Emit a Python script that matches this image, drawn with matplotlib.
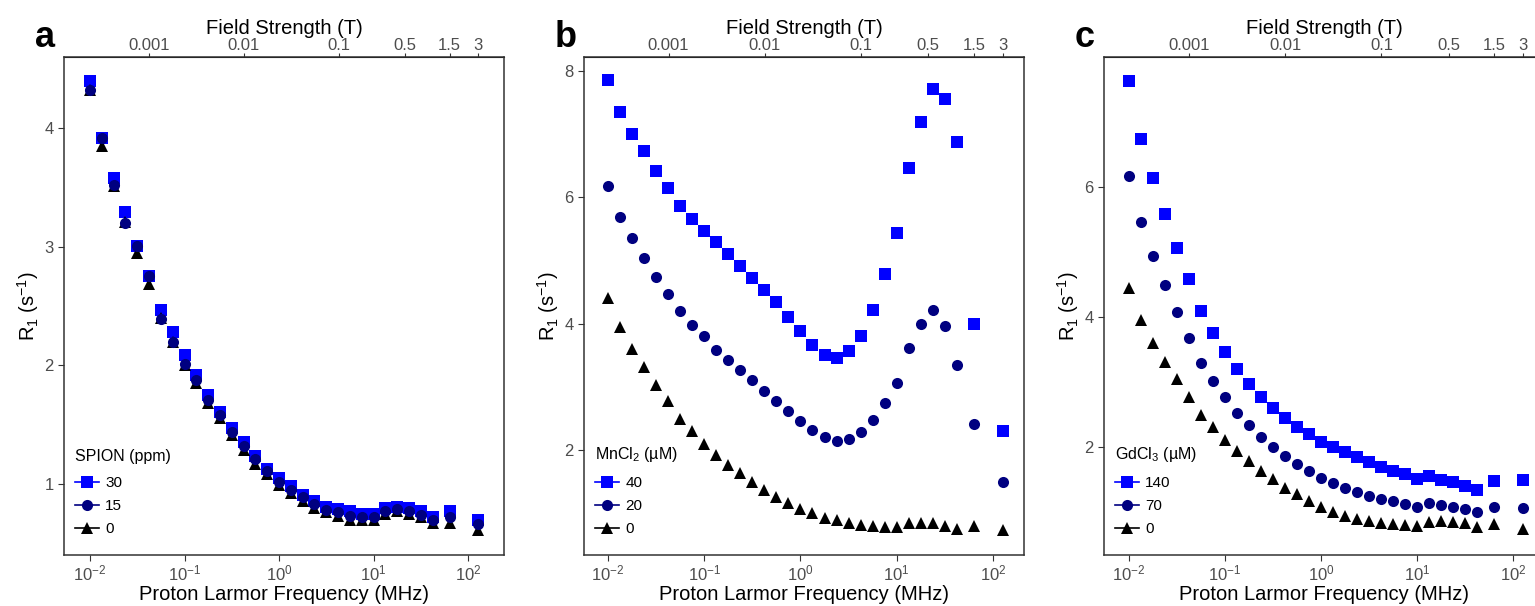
import matplotlib.pyplot as plt
from matplotlib.lines import Line2D
from matplotlib.ticker import FixedLocator, NullLocator, LogLocator

plt.rcParams['font.family'] = ['Liberation Sans', 'DejaVu Sans']
plt.rcParams['mathtext.fontset'] = 'custom'
plt.rcParams['mathtext.rm'] = 'Liberation Sans'
plt.rcParams['mathtext.it'] = 'Liberation Sans:italic'

# Frequências do relaxómetro (MHz)
freq = [0.01, 0.0133, 0.0178, 0.0237, 0.0316, 0.0422, 0.0562, 0.075,
        0.1, 0.133, 0.178, 0.237, 0.316, 0.422, 0.562, 0.75,
        1.0, 1.33, 1.78, 2.37, 3.16, 4.22, 5.62, 7.5,
        10.0, 13.3, 17.8, 23.7, 31.6, 42.2, 63.9, 127.7]

# Painel a - SPION (ppm)
spion_30 = [4.40, 3.92, 3.58, 3.29, 3.01, 2.75, 2.47, 2.28, 2.09, 1.92, 1.75, 1.61, 1.47, 1.35, 1.24, 1.13,
            1.05, 0.98, 0.91, 0.86, 0.81, 0.79, 0.77, 0.75, 0.75, 0.80, 0.81, 0.80, 0.77, 0.72, 0.77, 0.70]
spion_15 = [4.32, 3.92, 3.52, 3.20, 3.01, 2.75, 2.39, 2.20, 2.01, 1.88, 1.71, 1.58, 1.44, 1.32, 1.21, 1.11,
            1.02, 0.95, 0.89, 0.83, 0.78, 0.76, 0.73, 0.72, 0.72, 0.77, 0.79, 0.77, 0.74, 0.70, 0.72, 0.66]
spion_0 = [4.32, 3.85, 3.51, 3.21, 2.95, 2.69, 2.40, 2.20, 2.00, 1.85, 1.68, 1.56, 1.41, 1.29, 1.17, 1.08,
           0.99, 0.92, 0.86, 0.80, 0.76, 0.73, 0.70, 0.70, 0.70, 0.75, 0.77, 0.75, 0.72, 0.67, 0.67, 0.61]

# Painel b - MnCl2 (uM)
mn_40 = [7.86, 7.35, 7.00, 6.73, 6.42, 6.15, 5.87, 5.65, 5.47, 5.29, 5.11, 4.92, 4.73, 4.54, 4.34, 4.11,
         3.88, 3.66, 3.51, 3.46, 3.57, 3.81, 4.22, 4.78, 5.44, 6.46, 7.19, 7.71, 7.56, 6.87, 3.99, 2.30]
mn_20 = [6.18, 5.69, 5.35, 5.04, 4.74, 4.47, 4.20, 3.98, 3.80, 3.59, 3.43, 3.26, 3.11, 2.94, 2.78, 2.62,
         2.46, 2.32, 2.20, 2.15, 2.18, 2.29, 2.48, 2.74, 3.06, 3.62, 4.00, 4.21, 3.96, 3.35, 2.42, 1.50]
mn_0 = [4.40, 3.95, 3.60, 3.31, 3.03, 2.78, 2.49, 2.30, 2.10, 1.93, 1.77, 1.63, 1.49, 1.37, 1.25, 1.16,
        1.07, 1.00, 0.93, 0.89, 0.85, 0.82, 0.80, 0.79, 0.78, 0.84, 0.85, 0.84, 0.80, 0.75, 0.80, 0.73]

# Painel c - GdCl3 (uM)
gd_140 = [7.63, 6.74, 6.13, 5.58, 5.06, 4.58, 4.09, 3.75, 3.45, 3.19, 2.96, 2.77, 2.60, 2.44, 2.31, 2.19,
          2.08, 2.00, 1.92, 1.84, 1.76, 1.69, 1.63, 1.58, 1.50, 1.55, 1.49, 1.45, 1.40, 1.33, 1.48, 1.49]
gd_70 = [6.17, 5.46, 4.93, 4.49, 4.07, 3.67, 3.29, 3.01, 2.76, 2.52, 2.33, 2.15, 2.00, 1.86, 1.73, 1.62,
         1.52, 1.44, 1.37, 1.30, 1.24, 1.20, 1.16, 1.12, 1.08, 1.13, 1.11, 1.08, 1.04, 0.99, 1.08, 1.06]
gd_0 = [4.44, 3.95, 3.60, 3.31, 3.04, 2.77, 2.49, 2.30, 2.11, 1.94, 1.78, 1.63, 1.50, 1.37, 1.27, 1.17,
        1.08, 1.00, 0.93, 0.89, 0.86, 0.83, 0.81, 0.80, 0.78, 0.84, 0.85, 0.84, 0.82, 0.76, 0.81, 0.73]

paineis = [
    ('a', 'SPION (ppm)', ['30', '15', '0'], [spion_30, spion_15, spion_0],
     (10**-2.275, 10**2.38), (0.401, 4.601), [1, 2, 3, 4]),
    ('b', 'MnCl$_2$ (µM)', ['40', '20', '0'], [mn_40, mn_20, mn_0],
     (10**-2.249, 10**2.322), (0.34, 8.22), [2, 4, 6, 8]),
    ('c', 'GdCl$_3$ (µM)', ['140', '70', '0'], [gd_140, gd_70, gd_0],
     (10**-2.26, 10**2.322), (0.334, 7.995), [2, 4, 6]),
]

cores = ['#0000FF', '#000080', '#000000']
marcadores = ['s', 'o', '^']
tamanhos = [8, 8, 8.5]
ordem = [0, 2, 1]  # quadrados, depois triângulos, depois círculos

W, H = 1535, 606
fig = plt.figure(figsize=(W / 100, H / 100), dpi=100)
esquerdas = [64, 584, 1104]
gamma = 42.58  # MHz/T

for (letra, titulo, rotulos, series, xlim, ylim, yticks), x0 in zip(paineis, esquerdas):
    ax = fig.add_axes([x0 / W, 1 - 555 / H, 440 / W, 498 / H])
    for i in ordem:
        ax.plot(freq, series[i], linestyle='none', marker=marcadores[i], color=cores[i],
                markersize=tamanhos[i], markeredgewidth=0)
    ax.set_xscale('log')
    ax.set_xlim(*xlim)
    ax.set_ylim(*ylim)
    ax.xaxis.set_major_locator(LogLocator(base=10, numticks=10))
    ax.xaxis.set_minor_locator(NullLocator())
    ax.yaxis.set_major_locator(FixedLocator(yticks))
    ax.tick_params(direction='out', length=4, width=0.8, color='#333333',
                   labelcolor='#4D4D4D', labelsize=12)
    ax.tick_params(axis='x', pad=2)
    for s in ax.spines.values():
        s.set_color('#333333')
        s.set_linewidth(1.1)
    ax.set_xlabel('Proton Larmor Frequency (MHz)', fontsize=14.5, labelpad=1)
    ax.set_ylabel(r'R$_1$ (s$^{-1}$)', fontsize=14.5, labelpad=2)

    # eixo superior com o campo magnético
    sec = ax.secondary_xaxis('top', functions=(lambda f: f / gamma, lambda b: b * gamma))
    sec.set_xticks([0.001, 0.01, 0.1, 0.5, 1.5, 3], labels=['0.001', '0.01', '0.1', '0.5', '1.5', '3'])
    sec.xaxis.set_minor_locator(NullLocator())
    sec.tick_params(direction='out', length=3, width=0.8, color='#333333',
                    labelcolor='#4D4D4D', labelsize=12, pad=0)
    sec.set_xlabel('Field Strength (T)', fontsize=14.5, labelpad=2.5)

    handles = [Line2D([0], [0], color=cores[i], marker=marcadores[i], markersize=tamanhos[i],
                      markeredgewidth=0, lw=1.2) for i in range(3)]
    leg = ax.legend(handles, rotulos, title=titulo, loc='lower left', frameon=False,
                    bbox_to_anchor=(0.0, 0.016), borderaxespad=0.3,
                    fontsize=11, title_fontsize=11.5, handlelength=1.6, handletextpad=0.4,
                    labelspacing=0.6, alignment='left')
    leg._legend_box.sep = 9

    fig.text((x0 - 29) / W, 1 - 47 / H, letra, fontsize=26, fontweight='bold',
             ha='left', va='baseline')

fig.savefig('out.png', dpi=100)
